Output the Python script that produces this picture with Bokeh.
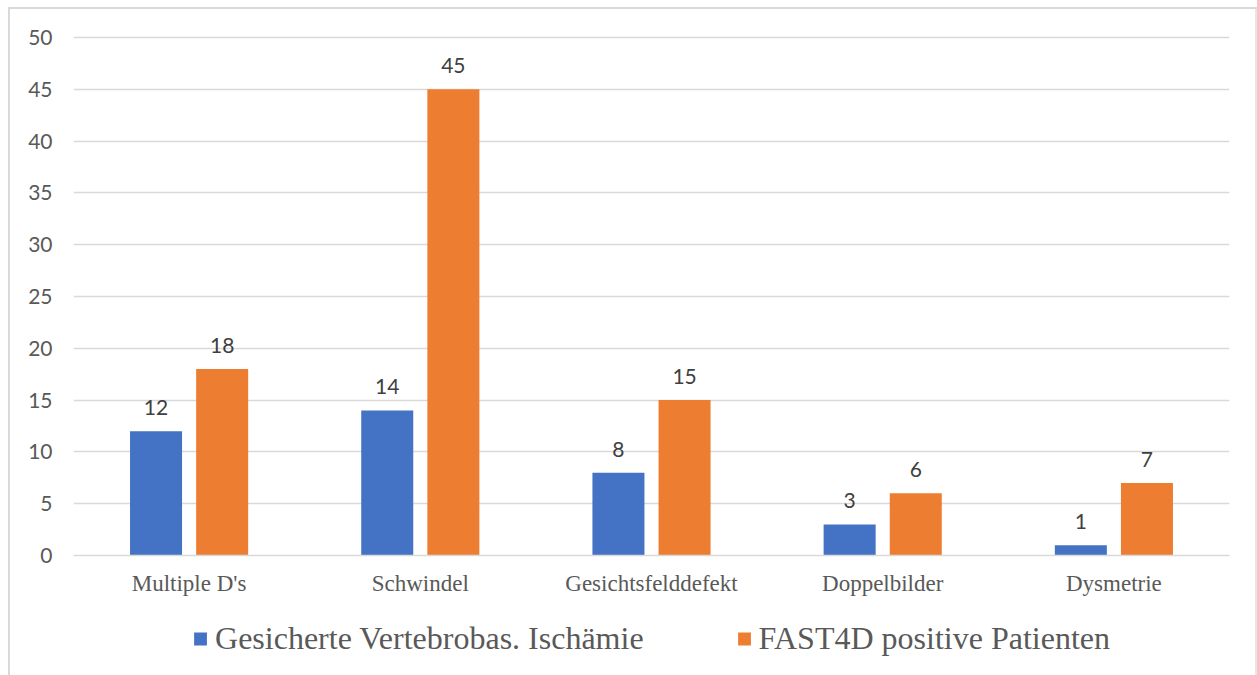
from bokeh.plotting import figure
from bokeh.layouts import column
from bokeh.models import ColumnDataSource, FactorRange, Range1d, Legend, LegendItem, SingleIntervalTicker
from bokeh.transform import dodge
from bokeh.core.properties import value
from bokeh.embed import file_html
from bokeh.resources import INLINE

categories = ["Multiple D's", "Schwindel", "Gesichtsfelddefekt", "Doppelbilder", "Dysmetrie"]
gesichert = [12, 14, 8, 3, 1]
fast4d = [18, 45, 15, 6, 7]
series_names = ["Gesicherte Vertebrobas. Ischämie", "FAST4D positive Patienten"]

BLUE = "#4472C4"
ORANGE = "#ED7D31"
GRID = "#d9d9d9"
TXT = "#595959"

src = ColumnDataSource(dict(
    cat=categories,
    g=gesichert,
    f=fast4d,
    gl=[str(v) for v in gesichert],
    fl=[str(v) for v in fast4d],
))

LINE = "linear-gradient(#d9d9d9,#d9d9d9)"
RLINE = "linear-gradient(#e6e6e6,#e6e6e6)"

# ---- main chart ----
p = figure(
    x_range=FactorRange(*categories, range_padding=0),
    y_range=Range1d(0, 50.2),
    frame_width=1156, frame_height=520,
    min_border_left=73, min_border_right=28, min_border_top=35, min_border_bottom=42,
    output_backend="svg", toolbar_location=None,
)
p.outline_line_color = None
p.background_fill_color = "white"
p.border_fill_color = None
# thin light-gray chart border behind the transparent canvas edges
p.styles = {
    "background": (
        f"{LINE} 8px 7px / 2px 100% no-repeat, "
        f"{LINE} 8px 7px / 100% 2px no-repeat, "
        f"{RLINE} 1255px 7px / 2px 100% no-repeat, "
        "white"
    ),
}

w = 0.225
off = 0.143
p.vbar(x=dodge("cat", -off, range=p.x_range), top="g", width=w, source=src,
       fill_color=BLUE, line_color=None)
p.vbar(x=dodge("cat", off, range=p.x_range), top="f", width=w, source=src,
       fill_color=ORANGE, line_color=None)

label_kw = dict(text_align="center", text_baseline="bottom", y_offset=-16,
                text_font=value("Lato"), text_font_size="21px", text_color="#404040", source=src)
p.text(x=dodge("cat", -off, range=p.x_range), y="g", text="gl", **label_kw)
p.text(x=dodge("cat", off, range=p.x_range), y="f", text="fl", **label_kw)

p.yaxis.ticker = SingleIntervalTicker(interval=5)
p.yaxis.axis_line_color = None
p.yaxis.major_tick_line_color = None
p.yaxis.minor_tick_line_color = None
p.yaxis.major_tick_out = 0
p.yaxis.major_label_standoff = 17
p.yaxis.major_label_text_font = "Lato"
p.yaxis.major_label_text_font_size = "21px"
p.yaxis.major_label_text_color = TXT

p.xaxis.axis_line_color = GRID
p.xaxis.axis_line_width = 1.5
p.xaxis.major_tick_line_color = None
p.xaxis.minor_tick_line_color = None
p.xaxis.major_tick_out = 0
p.xaxis.major_label_standoff = 15
p.xaxis.major_label_text_font = "Liberation Serif"
p.xaxis.major_label_text_font_size = "23px"
p.xaxis.major_label_text_color = TXT

p.xgrid.grid_line_color = None
p.ygrid.grid_line_color = GRID
p.ygrid.grid_line_width = 1.5

# ---- legend strip below the chart ----
leg = figure(
    width=1257, height=80,
    x_range=Range1d(0, 100), y_range=Range1d(0, 1),
    min_border=0, output_backend="svg", toolbar_location=None,
)
leg.axis.visible = False
leg.grid.grid_line_color = None
leg.outline_line_color = None
leg.background_fill_color = None
leg.border_fill_color = None
leg.styles = {
    "background": (
        f"{LINE} 8px 0px / 2px 100% no-repeat, "
        f"{RLINE} 1255px 0px / 2px 100% no-repeat, "
        "white"
    ),
}
# zero-height series bars that only serve as legend keys
sb = leg.vbar(x="g", top=0, bottom=0, width=0.1, source=src, fill_color=BLUE, line_color=None)
so = leg.vbar(x="f", top=0, bottom=0, width=0.1, source=src, fill_color=ORANGE, line_color=None)

legend = Legend(
    items=[LegendItem(label=series_names[0], renderers=[sb]),
           LegendItem(label=series_names[1], renderers=[so])],
    orientation="horizontal", location="center",
    label_text_font="Liberation Serif", label_text_font_size="32px",
    label_text_color=TXT, glyph_width=16, glyph_height=16,
    label_standoff=7, spacing=92, border_line_color=None,
    background_fill_alpha=0, padding=0, margin=0,
)
leg.add_layout(legend, "center")

layout = column(p, leg, spacing=0)
open("out.html", "w").write(file_html(layout, INLINE))
